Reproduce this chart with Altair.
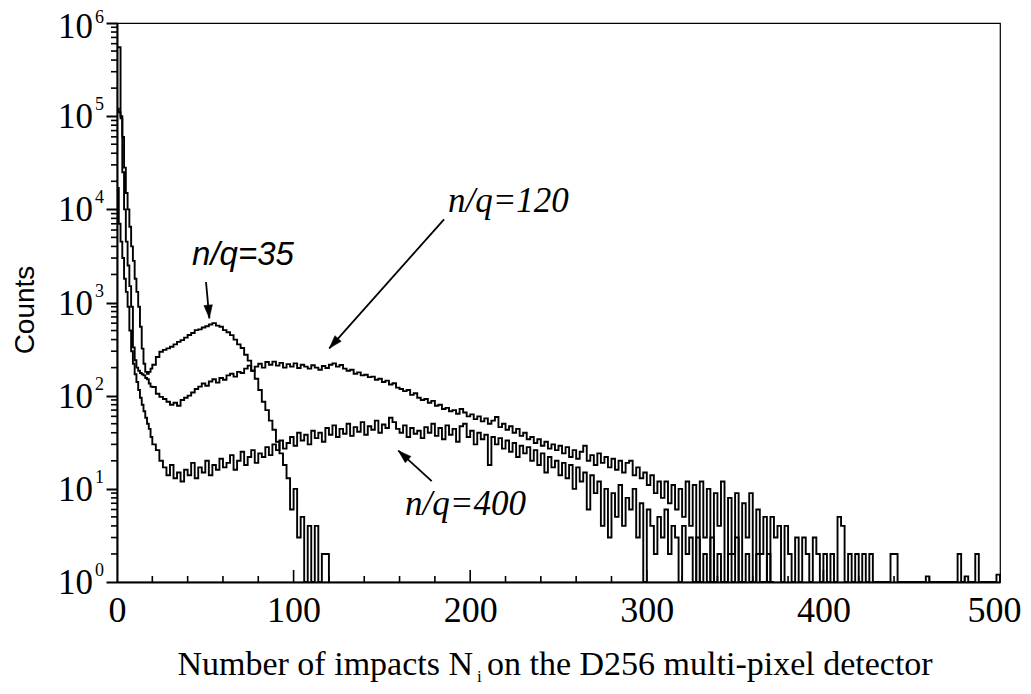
import math
import altair as alt
import pandas as pd

# ---------------- data ----------------
# bins: width 1 for N = 0..19, width 2 from N = 20 on
FINE_EDGES = list(range(0, 20))
COARSE_START = 20
COARSE_WIDTH = 2

S35_FINE = [120000, 110000, 95000, 60000, 28000, 15000, 10000, 6500, 4000, 2800,
            1800, 1300, 900, 550, 320, 220, 180, 172, 180, 195]
S35_COARSE = [215, 260, 296, 310, 322, 335, 355, 378, 395, 420,
              448, 470, 505, 515, 540, 555, 580, 600, 565, 550,
              505, 480, 447, 400, 355, 325, 275, 238, 185, 152,
              115, 86, 70, 54, 43, 32, 24, 18, 13, 6,
              10, 3, 5, 1, 4, 1, 4, 1, 2, 2]

S120_FINE = [550000, 550000, 100000, 25000, 10000, 4500, 2500, 1500, 900, 330,
             240, 200, 185, 175, 170, 165, 155, 150, 135, 125]
S120_COARSE = [124, 105, 97, 92, 86, 80, 84, 78, 90, 95,
               100, 108, 118, 125, 135, 128, 142, 150, 138, 155,
               148, 165, 172, 160, 180, 175, 195, 210, 185, 205,
               220, 200, 230, 215, 232, 210, 225, 200, 218, 205,
               222, 198, 215, 205, 195, 212, 200, 190, 208, 198,
               215, 222, 205, 213, 195, 185, 190, 172, 178, 165,
               168, 158, 160, 148, 152, 140, 145, 132, 136, 122,
               118, 112, 115, 102, 106, 95, 90, 92, 84, 88,
               78, 80, 72, 74, 68, 70, 64, 72, 66, 60,
               63, 56, 60, 53, 57, 50, 54, 59, 46, 50,
               43, 47, 40, 44, 37, 40, 34, 36, 31, 34,
               29, 32, 27, 30, 26, 29, 24, 28, 22, 26,
               21, 25, 29, 20, 23, 18, 24, 19, 22, 17,
               21, 16, 20, 15, 19, 20, 14, 17, 13, 15,
               11, 14, 9, 12, 8, 12, 7, 11, 6, 10,
               5, 12, 4, 11, 1, 12, 3, 10, 1, 9,
               4, 12, 1, 8, 2, 9, 1, 7, 3, 9,
               1, 6, 2, 5, 1, 5, 3, 4, 1, 4,
               2, 1, 3, 1, 3, 2, 1, 3, 2, 1,
               2, 1, 2, 1, 5, 4, 1, 2, 1, 2,
               1, 2, 1, 2, 1, 1, 1, 1, 1, 2,
               2, 1, 1, 1, 1, 1, 1, 1, 1, 1.15,
               1, 1, 1, 1, 1, 1, 1, 1, 2, 1,
               1.15, 1, 1, 2, 1, 1, 1, 1, 1, 1.2]

S400_FINE = [17000, 7000, 4500, 3000, 1800, 1300, 900, 500, 300, 220,
             170, 140, 115, 95, 80, 68, 58, 50, 44, 36]
S400_COARSE = [30, 26, 20, 17, 14, 18, 13, 15, 12, 16,
               14, 19, 13, 17, 15, 20, 14, 18, 16, 21,
               17, 19, 23, 16, 20, 25, 18, 22, 26, 19,
               24, 22, 28, 23, 30, 26, 33, 27, 31, 36,
               29, 40, 33, 38, 30, 42, 35, 40, 32, 45,
               38, 48, 36, 44, 39, 50, 37, 46, 41, 52,
               38, 47, 43, 54, 40, 49, 45, 58, 52, 44,
               40, 48, 36, 45, 39, 42, 35, 46, 40, 50,
               37, 45, 34, 48, 38, 44, 32, 47, 50, 36,
               42, 30, 40, 34, 38, 18, 36, 30, 35, 27,
               33, 25, 31, 22, 29, 24, 28, 20, 26, 18,
               24, 15, 22, 17, 20, 14, 19, 13, 18, 10,
               17, 12, 15, 6, 14, 9, 12, 4, 10, 3,
               9, 5, 11, 4, 8, 6, 10, 3, 7, 1,
               6, 4, 2, 5, 3, 6, 2, 4, 3, 1,
               4, 2, 3, 1, 3, 1, 2, 1, 3, 1,
               2, 1, 1, 2, 1, 3, 1, 1, 2, 1,
               1, 2, 1, 1, 2, 1]

X_LABELS = [0, 100, 200, 300, 400, 500]
X_MAJOR_INNER = [100, 200, 300, 400]
X_MINOR_INNER = [20, 40, 60, 80, 120, 140, 160, 180, 220, 240, 260, 280,
                 320, 340, 360, 380, 420, 440, 460, 480]
Y_MAJOR = [1, 10, 100, 1000, 10000, 100000, 1000000]
Y_LABEL_LOW = [1, 10, 100, 1000, 10000, 100000]
Y_EXP_LOW = ["0", "1", "2", "3", "4", "5"]
Y_LABEL_TOP = [1000000]
Y_EXP_TOP = ["6"]
Y_MINOR = [m * 10 ** k for k in range(6) for m in range(2, 10)]

ANNOT_SANS_TEXT = ["n/q=35"]
ANNOT_SANS_X = [42.5]
ANNOT_SANS_Y = [2525]
ANNOT_SERIF_TEXT = ["n/q=120", "n/q=400"]
ANNOT_SERIF_X = [187.4, 163.1]
ANNOT_SERIF_Y = [9360, 5.24]

ARROW_X0 = [50.4, 185.2, 178.2]
ARROW_Y0 = [1660, 7810, 12.1]
ARROW_X1 = [52.3, 120.2, 159.3]
ARROW_Y1 = [676, 322, 25.7]

# ---------------- layout ----------------
W, H = 883, 559
XMAX = 500
LOGMAX = 6


def build(name, fine, coarse):
    xs = FINE_EDGES[:len(fine)] + [COARSE_START + COARSE_WIDTH * i for i in range(len(coarse))]
    ys = list(fine) + list(coarse)
    xs.append(xs[-1] + (COARSE_WIDTH if coarse else 1))
    ys.append(1)
    return pd.DataFrame({"x": xs, "count": ys, "series": name})


hist = pd.concat([
    build("n/q=35", S35_FINE, S35_COARSE),
    build("n/q=120", S120_FINE, S120_COARSE),
    build("n/q=400", S400_FINE, S400_COARSE),
], ignore_index=True)

xscale = alt.Scale(domain=[0, XMAX], nice=False, zero=False)
yscale = alt.Scale(type="log", domain=[1, 10 ** LOGMAX], nice=False)

X_AXIS = alt.Axis(values=X_LABELS, ticks=False, grid=False, title=None,
                  labelFont="Liberation Serif", labelFontSize=36,
                  labelColor="black", labelPadding=11, labelFlush=False,
                  labelOverlap=False, domainColor="black", domainWidth=2,
                  labelOffset={"condition": {"test": "datum.value == 500", "value": -6},
                               "value": 0})
Y_AXIS = alt.Axis(values=Y_MAJOR, tickSize=11, tickWidth=2, tickColor="black",
                  labels=False, grid=False, title=None,
                  domainColor="black", domainWidth=2)


def X(field):
    return alt.X(field, scale=xscale, axis=X_AXIS)


def Y(field):
    return alt.Y(field, scale=yscale, axis=Y_AXIS)


lines = alt.Chart(hist).mark_line(
    interpolate="step-after", color="black", strokeWidth=1.9
).encode(x=X("x:Q"), y=Y("count:Q"), detail="series:N")

# inward ticks on the x axis
xmaj = alt.Chart(pd.DataFrame({"v": X_MAJOR_INNER})).mark_rule(
    color="black", strokeWidth=1.6
).encode(x=X("v:Q"), y=alt.value(H), y2=alt.value(H - 12))
xmin = alt.Chart(pd.DataFrame({"v": X_MINOR_INNER})).mark_rule(
    color="black", strokeWidth=1.6
).encode(x=X("v:Q"), y=alt.value(H), y2=alt.value(H - 6))

# minor ticks on the y axis (outward)
ymin = alt.Chart(pd.DataFrame({"v": Y_MINOR})).mark_rule(
    color="black", strokeWidth=1.6
).encode(y=Y("v:Q"), x=alt.value(-6), x2=alt.value(0))


# y labels 10^k
def ylabels(values, exps, dy_base, dy_exp):
    df = pd.DataFrame({"v": values, "e": exps, "b": ["10"] * len(values)})
    base = alt.Chart(df).mark_text(
        font="Liberation Serif", fontSize=35, align="right", baseline="middle",
        dy=dy_base, color="black"
    ).encode(y=Y("v:Q"), x=alt.value(-24), text="b:N")
    exp = alt.Chart(df).mark_text(
        font="Liberation Serif", fontSize=18, align="left", baseline="middle",
        dy=dy_exp, color="black"
    ).encode(y=Y("v:Q"), x=alt.value(-22), text="e:N")
    return [base, exp]


ylab_layers = ylabels(Y_LABEL_LOW, Y_EXP_LOW, 1, -11) + ylabels(Y_LABEL_TOP, Y_EXP_TOP, 4, -5)

# annotations
ann_sans = alt.Chart(pd.DataFrame({"x": ANNOT_SANS_X, "y": ANNOT_SANS_Y, "t": ANNOT_SANS_TEXT})).mark_text(
    font="Liberation Sans", fontStyle="italic", fontSize=33, align="left",
    baseline="alphabetic", color="black"
).encode(x=X("x:Q"), y=Y("y:Q"), text="t:N")
ann_serif = alt.Chart(pd.DataFrame({"x": ANNOT_SERIF_X, "y": ANNOT_SERIF_Y, "t": ANNOT_SERIF_TEXT})).mark_text(
    font="Liberation Serif", fontStyle="italic", fontSize=35, align="left",
    baseline="alphabetic", color="black"
).encode(x=X("x:Q"), y=Y("y:Q"), text="t:N")


def px(x):
    return x / XMAX * W


def py(y):
    return H - math.log10(y) / LOGMAX * H


angles = []
for x0, y0, x1, y1 in zip(ARROW_X0, ARROW_Y0, ARROW_X1, ARROW_Y1):
    dx = px(x1) - px(x0)
    dy = py(y1) - py(y0)
    angles.append(math.degrees(math.atan2(dx, -dy)) % 360)

arrows_df = pd.DataFrame({"x0": ARROW_X0, "y0": ARROW_Y0, "x1": ARROW_X1,
                          "y1": ARROW_Y1, "ang": angles})
arrow_lines = alt.Chart(arrows_df).mark_rule(color="black", strokeWidth=1.8).encode(
    x=X("x0:Q"), y=Y("y0:Q"), x2="x1:Q", y2="y1:Q")
arrow_heads = alt.Chart(arrows_df).mark_point(
    shape="M0,0L0.32,1L-0.32,1Z", filled=True, fill="black", stroke="black",
    strokeWidth=0.5, size=700, opacity=1
).encode(x=X("x1:Q"), y=Y("y1:Q"), angle=alt.Angle("ang:Q", scale=None))

# axis titles
one = alt.Data(values=[{}])
ytitle = alt.Chart(one).mark_text(
    text="Counts", font="Liberation Sans", fontSize=28, angle=270,
    align="center", baseline="middle", color="black"
).encode(x=alt.value(-91), y=alt.value(287))
xtitle_a = alt.Chart(one).mark_text(
    text="Number of impacts N", font="Liberation Serif", fontSize=34,
    align="right", baseline="alphabetic", color="black"
).encode(x=alt.value(356), y=alt.value(652))
xtitle_i = alt.Chart(one).mark_text(
    text="i", font="Liberation Serif", fontSize=17,
    align="left", baseline="alphabetic", color="black"
).encode(x=alt.value(360), y=alt.value(659))
xtitle_b = alt.Chart(one).mark_text(
    text="on the D256 multi-pixel detector", font="Liberation Serif", fontSize=34,
    align="left", baseline="alphabetic", color="black"
).encode(x=alt.value(370), y=alt.value(652))

chart = alt.layer(
    lines, xmaj, xmin, ymin, *ylab_layers, ann_sans, ann_serif,
    arrow_lines, arrow_heads, ytitle, xtitle_a, xtitle_i, xtitle_b
).properties(
    width=W, height=H,
    autosize=alt.AutoSizeParams(type="none"),
    padding={"left": 109, "top": 15, "right": 22, "bottom": 104},
    background="white",
).configure_view(stroke="black", strokeWidth=1.2)

chart.save("out.html", embed_options={"renderer": "svg", "actions": False})
